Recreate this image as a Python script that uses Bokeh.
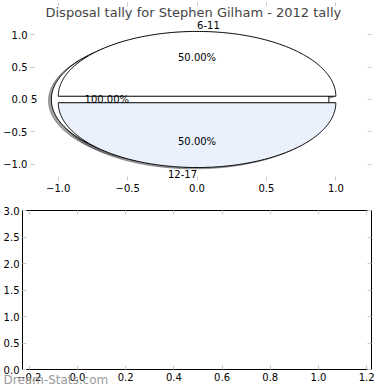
import numpy as np
from bokeh.plotting import figure
from bokeh.models import (Range1d, LinearAxis, FixedTicker, CustomJSTickFormatter,
                          Title, ColumnDataSource)
from bokeh.embed import file_html
from bokeh.resources import INLINE

# ---------------- data ----------------
TITLE = "Disposal tally for Stephen Gilham - 2012 tally"

# first pie call (drawn underneath)
pie1_labels = ["6-15"]
pie1_values = [1]
pie1_colors = ["#ffffff"]

# second pie call
pie2_labels = ["6-11", "12-17"]
pie2_values = [1, 1]
pie2_colors = ["#ffffff", "#eaf1fc"]

EXPLODE = 0.05

top_xticks = [-1.0, -0.5, 0.0, 0.5, 1.0]
top_xlabels = ["−1.0", "−0.5", "0.0", "0.5", "1.0"]
top_yticks = [-1.0, -0.5, 0.0, 0.5, 1.0]
top_ylabels = ["−1.0", "−0.5", "0.0", "0.5", "1.0"]

bot_xticks = [-0.2, 0.0, 0.2, 0.4, 0.6, 0.8, 1.0, 1.2]
bot_xlabels = ["−0.2", "0.0", "0.2", "0.4", "0.6", "0.8", "1.0", "1.2"]
bot_yticks = [0.0, 0.5, 1.0, 1.5, 2.0, 2.5, 3.0]
bot_ylabels = ["0.0", "0.5", "1.0", "1.5", "2.0", "2.5", "3.0"]

WATERMARK = "Dream-Stats.com"

FONT = "DejaVu Sans"
TICK_COLOR = "#c8c8c8"


# ---------------- pie geometry (matplotlib-like) ----------------
def pie_geometry(values, labels, colors, explode):
    fr = np.asarray(values, dtype=float)
    fr = fr / fr.sum()
    t1 = 0.0
    wedges = dict(xs=[], ys=[], color=[], sxs=[], sys=[], shadow=[])
    texts = dict(x=[], y=[], text=[], align=[])
    for f, lab, col in zip(fr, labels, colors):
        t2 = t1 + f * 2 * np.pi
        tm = 0.5 * (t1 + t2)
        cx, cy = explode * np.cos(tm), explode * np.sin(tm)
        t = np.linspace(t1, t2, 240)
        xs = cx + np.cos(t)
        ys = cy + np.sin(t)
        if f < 0.999999:
            xs = np.r_[cx, xs, cx]
            ys = np.r_[cy, ys, cy]
        wedges["xs"].append(list(xs))
        wedges["ys"].append(list(ys))
        wedges["color"].append(col)
        wedges["sxs"].append(list(xs - 0.02))
        wedges["sys"].append(list(ys - 0.02))
        r, g, b = (int(col[i:i + 2], 16) for i in (1, 3, 5))
        wedges["shadow"].append("#%02x%02x%02x" % (int(r * 0.3), int(g * 0.3), int(b * 0.3)))
        xt = cx + 1.1 * np.cos(tm)
        yt = cy + 1.1 * np.sin(tm)
        texts["x"].append(xt)
        texts["y"].append(yt)
        texts["text"].append(lab)
        texts["align"].append("left" if xt > 0 else "right")
        texts["x"].append(cx + 0.6 * np.cos(tm))
        texts["y"].append(cy + 0.6 * np.sin(tm))
        texts["text"].append("%.2f%%" % (f * 100))
        texts["align"].append("center")
        t1 = t2
    return wedges, texts


w1, tx1 = pie_geometry(pie1_values, pie1_labels, pie1_colors, EXPLODE)
w2, tx2 = pie_geometry(pie2_values, pie2_labels, pie2_colors, EXPLODE)


def fmt(tvals, labels):
    return CustomJSTickFormatter(
        args=dict(tv=tvals, lb=labels),
        code="const i = tv.findIndex(t => Math.abs(t - tick) < 1e-9); return i >= 0 ? lb[i] : '';")


def style_axis(ax, tvals, labels=None):
    ax.ticker = FixedTicker(ticks=tvals)
    ax.axis_line_color = None
    ax.major_tick_in = 4
    ax.major_tick_out = 0
    ax.major_tick_line_color = TICK_COLOR
    ax.minor_tick_line_color = None
    ax.major_label_text_font = FONT
    ax.major_label_text_color = "black"
    if labels is not None:
        ax.formatter = fmt(tvals, labels)
        ax.major_label_text_font_size = "10px"
        ax.major_label_standoff = 3
    else:
        ax.formatter = CustomJSTickFormatter(code="return '';")
        ax.major_label_text_font_size = "1px"
        ax.major_label_standoff = 0


# ---------------- top: pie ----------------
p1 = figure(width=390, height=194, x_range=Range1d(-1.2, 1.257), y_range=Range1d(-1.25, 1.234),
            output_backend="svg", toolbar_location=None,
            min_border_left=0, min_border_right=19, min_border_top=19, min_border_bottom=0)
p1.add_layout(Title(text=TITLE, text_font=FONT, text_font_size="13px", text_font_style="normal",
                    align="left", offset=15, standoff=0), "above")
p1.outline_line_color = None
p1.grid.visible = False
style_axis(p1.xaxis[0], top_xticks, top_xlabels)
style_axis(p1.yaxis[0], top_yticks, top_ylabels)
ax_r = LinearAxis()
style_axis(ax_r, top_yticks)
p1.add_layout(ax_r, "right")
ax_t = LinearAxis()
style_axis(ax_t, top_xticks)
p1.add_layout(ax_t, "above")

# shadows (all below wedges)
for w in (w1, w2):
    p1.patches(xs="sxs", ys="sys", source=ColumnDataSource(w), fill_color="shadow",
               fill_alpha=0.5, line_color="shadow", line_alpha=0.5, line_width=1)
# wedges
for w in (w1, w2):
    p1.patches(xs="xs", ys="ys", source=ColumnDataSource(w), fill_color="color",
               line_color="black", line_width=1)
# texts
for tx in (tx1, tx2):
    p1.text(x="x", y="y", text="text", source=ColumnDataSource(tx), text_align="align",
            text_baseline="middle", text_font={"value": FONT}, text_font_size="10px",
            text_color="black")

# ---------------- bottom: empty axes ----------------
p2 = figure(width=390, height=196, x_range=Range1d(-0.228, 1.22), y_range=Range1d(0, 3),
            output_backend="svg", toolbar_location=None,
            min_border_left=0, min_border_right=19, min_border_top=16, min_border_bottom=21)
p2.outline_line_color = "black"
p2.outline_line_width = 1
p2.grid.visible = False
style_axis(p2.xaxis[0], bot_xticks, bot_xlabels)
style_axis(p2.yaxis[0], bot_yticks, bot_ylabels)
bx_r = LinearAxis()
style_axis(bx_r, bot_yticks)
p2.add_layout(bx_r, "right")
bx_t = LinearAxis()
style_axis(bx_t, bot_xticks)
p2.add_layout(bx_t, "above")

# watermark, overlapping the x tick labels like the original
p2.add_layout(Title(text=WATERMARK, text_font=FONT, text_font_size="12px",
                    text_font_style="normal", text_color="#9a9a9a",
                    align="left", vertical_align="top", offset=-19, standoff=-22), "below")

open("out.html", "w").write(file_html([p1, p2], INLINE))
